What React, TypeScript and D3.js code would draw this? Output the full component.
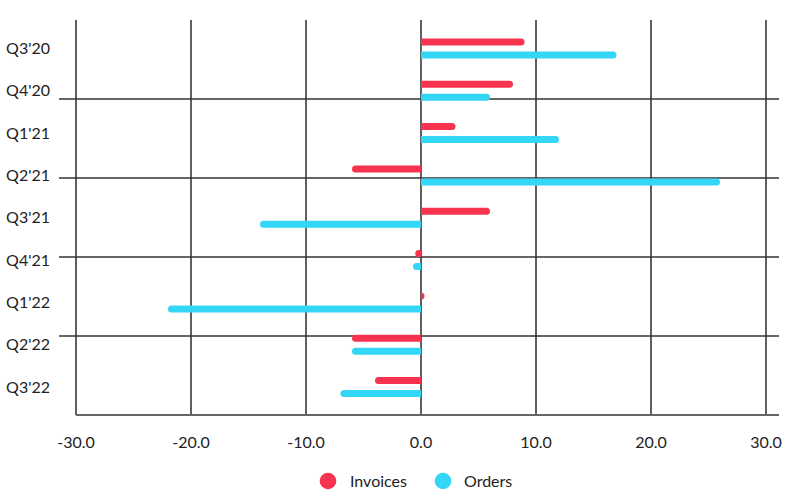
import React from "react";
import * as d3 from "d3";

const categories = ["Q3'20", "Q4'20", "Q1'21", "Q2'21", "Q3'21", "Q4'21", "Q1'22", "Q2'22", "Q3'22"];
const seriesNames = ["Invoices", "Orders"];
const invoices = [9, 8, 3, -6, 6, -0.5, 0.3, -6, -4];
const orders = [17, 6, 12, 26, -14, -0.7, -22, -6, -7];
const xTicks = [-30, -20, -10, 0, 10, 20, 30];
const colors = ["#f7334f", "#33d6f5"];

const W = 800;
const H = 498;

function barPath(x0: number, x1: number, y: number, h: number) {
  const s = x1 >= x0 ? 1 : -1;
  const len = Math.abs(x1 - x0);
  const r = Math.min(h / 2, len);
  const xe = x1 - s * r;
  const top = y - h / 2;
  const bot = y + h / 2;
  const sweep = s > 0 ? 1 : 0;
  return `M${x0},${top}L${xe},${top}A${r},${h / 2} 0 0 ${sweep} ${xe},${bot}L${x0},${bot}Z`;
}

export default function App() {
  const x = d3.scaleLinear().domain([-30, 30]).range([76, 766]);
  const y = d3.scaleBand().domain(categories).range([27.3, 408.2]).padding(0);
  const ySub = d3.scalePoint().domain(seriesNames).range([-6.5, 6.5]);
  const gridY = d3.scaleLinear().domain([0, 5]).range([415, 20]);
  const hLines = [1, 2, 3, 4];
  const values = [invoices, orders];
  const barH = 7;
  const font = "Lato, 'Noto Sans', sans-serif";

  return (
    <svg width={W} height={H} style={{ position: "absolute", left: 0, top: 0, background: "#fff" }}>
      {/* vertical grid lines */}
      {xTicks.map((t) => (
        <line key={"v" + t} x1={x(t)} x2={x(t)} y1={20} y2={415} stroke="#1c1c1c" strokeWidth={1.4} />
      ))}
      {/* horizontal grid lines */}
      {hLines.map((t) => (
        <line key={"h" + t} x1={59} x2={779} y1={gridY(t)} y2={gridY(t)} stroke="#333" strokeWidth={1.5} />
      ))}
      <line x1={76} x2={779} y1={415} y2={415} stroke="#666" strokeWidth={2} />
      {/* bars */}
      {values.map((vals, si) =>
        vals.map((v, i) => {
          const cy = (y(categories[i]) as number) + y.bandwidth() / 2 + (ySub(seriesNames[si]) as number);
          return (
            <path key={si + "-" + i} d={barPath(x(0), x(v), cy, barH)} fill={colors[si]} />
          );
        })
      )}
      {/* category labels */}
      {categories.map((c) => (
        <text
          key={c}
          x={50}
          y={(y(c) as number) + y.bandwidth() / 2}
          dy="0.35em"
          textAnchor="end"
          fontFamily={font}
          fontSize={16}
          fill="#222"
        >
          {c}
        </text>
      ))}
      {/* x tick labels */}
      {xTicks.map((t) => (
        <text key={"t" + t} x={x(t)} y={448} textAnchor="middle" fontFamily={font} fontSize={16} fill="#222">
          {d3.format(".1f")(t).replace("−", "-")}
        </text>
      ))}
      {/* legend */}
      <g>
        <circle cx={328} cy={481} r={8.3} fill={colors[0]} />
        <text x={350} y={481} dy="0.35em" fontFamily={font} fontSize={16} fill="#222">
          {seriesNames[0]}
        </text>
        <circle cx={443} cy={481} r={8.3} fill={colors[1]} />
        <text x={464} y={481} dy="0.35em" fontFamily={font} fontSize={16} fill="#222">
          {seriesNames[1]}
        </text>
      </g>
    </svg>
  );
}
